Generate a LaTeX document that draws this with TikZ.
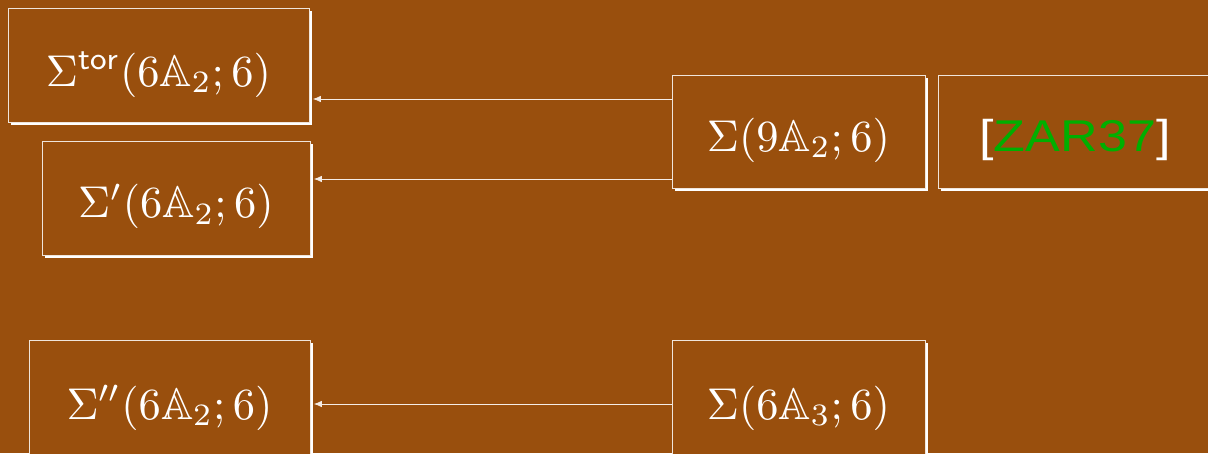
\documentclass[tikz,border=0pt]{standalone}
\usepackage{amssymb}
\usepackage{fontspec}
\newfontfamily\zarfont{Liberation Sans}
\usetikzlibrary{shadows,arrows.meta}
\definecolor{bgbrown}{RGB}{153,79,13}
\definecolor{zargreen}{RGB}{0,175,0}
\begin{document}
\begin{tikzpicture}[x=1pt,y=1pt,
  box/.style={rectangle, draw=white!85!bgbrown, line width=0.8pt, fill=bgbrown,
    inner sep=0pt,
    general shadow={fill=white, shadow xshift=3pt, shadow yshift=-3pt}},
  lbl/.style={text=white, inner sep=0pt, font=\normalsize, scale=4.45, transform shape},
  arr/.style={draw=white!90!bgbrown, line width=0.7pt, -{Latex[length=8pt,width=6.5pt]}}]
\fill[bgbrown] (0,0) rectangle (1208,-453);
\useasboundingbox (0,0) rectangle (1208,-453);
\node[box, minimum width=301pt, minimum height=114pt] (tor) at (158.5,-65) {};
\node[box, minimum width=268pt, minimum height=114pt] (pr) at (176,-198) {};
\node[box, minimum width=281pt, minimum height=114pt] (dpr) at (169.5,-397) {};
\node[box, minimum width=253pt, minimum height=113pt] (nine) at (798.5,-131.5) {};
\node[box, minimum width=274pt, minimum height=113pt] (zar) at (1075,-131.5) {};
\node[box, minimum width=253pt, minimum height=114pt] (six) at (798.5,-397) {};
\node[lbl, anchor=base] (tortx) at ([yshift=-21pt]tor.center) {$\Sigma^{\mathsf{tor}}(6\mathbb{A}_2;6)$};
\node[lbl, anchor=base] (prtx) at ([yshift=-19.5pt]pr.center) {$\Sigma'(6\mathbb{A}_2;6)$};
\node[lbl, anchor=base] (dprtx) at ([yshift=-22pt]dpr.center) {$\Sigma''(6\mathbb{A}_2;6)$};
\node[lbl, anchor=base] (ninetx) at ([yshift=-19.5pt]nine.center) {$\Sigma(9\mathbb{A}_2;6)$};
\node[lbl, anchor=base, xscale=1.17] (zartx) at ([yshift=-19.5pt]zar.center) {\zarfont[\textcolor{zargreen}{ZAR37}]};
\node[lbl, anchor=base] (sixtx) at ([yshift=-22pt]six.center) {$\Sigma(6\mathbb{A}_3;6)$};
\coordinate (ya) at (0,-99);
\coordinate (yb) at (0,-179);
\coordinate (yc) at (0,-404);
\draw[arr] (nine.west |- ya) -- ([xshift=3.5pt]tor.east |- ya);
\draw[arr] (nine.west |- yb) -- ([xshift=3.5pt]pr.east |- yb);
\draw[arr] (six.west |- yc) -- ([xshift=3.5pt]dpr.east |- yc);
\end{tikzpicture}
\end{document}
